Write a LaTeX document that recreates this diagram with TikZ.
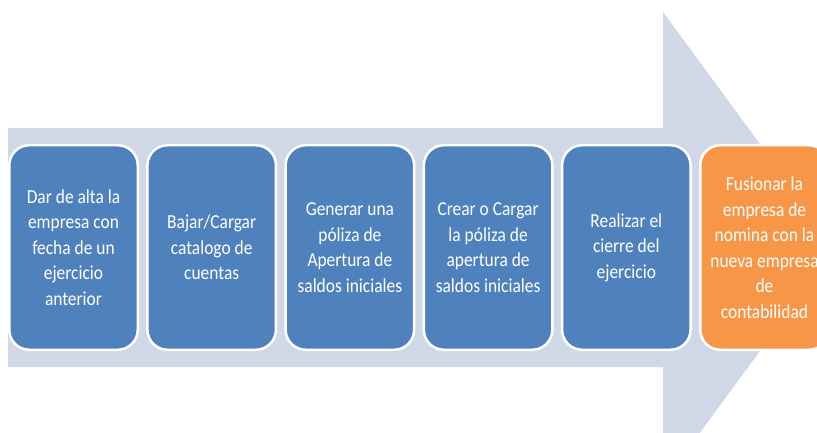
\documentclass[tikz,border=0pt]{standalone}
\usepackage{fontspec}
\setmainfont{Carlito}
\newfontfamily\stepfont[FakeStretch=0.88]{Carlito}
\definecolor{arrowbg}{RGB}{208,216,232}
\definecolor{stepblue}{RGB}{79,129,189}
\definecolor{steporange}{RGB}{247,150,70}
\tikzset{
  stepbox/.style={draw=white, line width=2.5pt, rounded corners=20pt, fill=stepblue,
    minimum width=128.5pt, minimum height=204.5pt, inner sep=0pt, align=center,
    text=white, font=\stepfont\fontsize{19.8}{25.5}\selectfont},
  lastbox/.style={stepbox, fill=steporange}
}
\begin{document}
\begin{tikzpicture}[x=1pt,y=1pt]
\useasboundingbox (0,0) rectangle (817,432);
\clip (0,0) rectangle (817,432);
\fill[arrowbg] (8,304) -- (663,304) -- (663,420) -- (836,184.5) -- (663,-51) -- (663,65) -- (8,65) -- cycle;
\node[stepbox] (s1) at (73.5,184.5) {Dar de alta la\\empresa con\\fecha de un\\ejercicio\\anterior};
\node[stepbox] (s2) at (211.7,184.5) {Bajar/Cargar\\catalogo de\\cuentas};
\node[stepbox] (s3) at (349.9,184.5) {Generar una\\póliza de\\Apertura de\\saldos iniciales};
\node[stepbox] (s4) at (488.1,184.5) {Crear o Cargar\\la póliza de\\apertura de\\saldos iniciales};
\node[stepbox] (s5) at (626.3,184.5) {Realizar el\\cierre del\\ejercicio};
\node[lastbox] (s6) at (764.5,184.5) {Fusionar la\\empresa de\\nomina con la\\nueva empresa\\de\\contabilidad};
\end{tikzpicture}
\end{document}
